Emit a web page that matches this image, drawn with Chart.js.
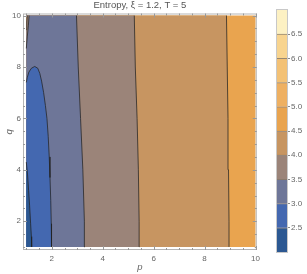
<!DOCTYPE html>
<html>
<head>
<meta charset="utf-8">
<script src="https://cdn.jsdelivr.net/npm/chart.js@4.4.1/dist/chart.umd.min.js"></script>
<style>
  body { margin: 0; background: #fff; }
  #wrap { position: relative; width: 307px; height: 274px; }
  #main { position: absolute; left: 0; top: 0; }
  #bar { position: absolute; left: 265px; top: 0; }
</style>
</head>
<body>
<div id="wrap">
  <canvas id="main" width="264" height="274"></canvas>
  <canvas id="bar" width="42" height="274"></canvas>
</div>
<script>
// Konturlinien [p, q]
const contour25 = [[1.0, 4.3], [1.05, 3.8], [1.09, 3.2], [1.13, 2.6], [1.17, 1.9], [1.2, 1.4], [1.21, 1.0]];
const contour30 = [[1.0, 7.4], [1.04, 7.6], [1.1, 7.8], [1.2, 7.95], [1.33, 8.02], [1.45, 7.95], [1.53, 7.75],
  [1.6, 7.45], [1.68, 7.0], [1.75, 6.5], [1.81, 6.0], [1.86, 5.3], [1.9, 4.5], [1.93, 3.7], [1.96, 2.8],
  [1.98, 1.9], [1.99, 1.0]];
const contour35 = [[3.3, 1.0], [3.28, 2.0], [3.22, 4.0], [3.13, 6.0], [3.04, 8.0], [2.97, 10.0]];
const contour40 = [[5.44, 1.0], [5.43, 2.0], [5.4, 4.0], [5.35, 6.0], [5.28, 8.0], [5.24, 10.0]];
const contour45 = [[8.96, 1.0], [8.96, 2.0], [8.94, 4.0], [8.92, 6.0], [8.89, 8.0], [8.86, 10.0]];
// kleine Zonen oben links
const contourTopA = [[1.0, 8.72], [1.04, 9.2], [1.08, 9.6], [1.11, 10.0]];
const contourTopB = [[1.0, 9.45], [1.02, 9.75], [1.04, 10.0]];

// Farbstufen 2.0 ... 7.0
const levels = [2.0, 2.5, 3.0, 3.5, 4.0, 4.5, 5.0, 5.5, 6.0, 6.5, 7.0];
const bandColors = ['#2c5892', '#4468b0', '#6e7698', '#9b8479', '#c79561', '#e9a44f',
  '#eeb062', '#f3c175', '#f8d48f', '#fdf1c3'];
const tickLabels = ['2.5', '3.0', '3.5', '4.0', '4.5', '5.0', '5.5', '6.0', '6.5'];

const pMin = 1, pMax = 10, qMin = 1, qMax = 10;

const pts = arr => arr.map(([x, y]) => ({x: x, y: y}));

// Flächen von unten nach oben gemalt
const regions = [
  {data: [[pMin, qMin], [pMax, qMin], [pMax, qMax], [pMin, qMax]], color: bandColors[5]},
  {data: [[pMin, qMin], ...contour45, [pMin, qMax]], color: bandColors[4]},
  {data: [[pMin, qMin], ...contour40, [pMin, qMax]], color: bandColors[3]},
  {data: [[pMin, qMin], ...contour35, [pMin, qMax]], color: bandColors[2]},
  {data: [...contour30, [pMin, qMin]], color: bandColors[1]},
  {data: [...contour25, [pMin, qMin]], color: bandColors[0]},
  {data: [...contourTopA, [pMin, qMax]], color: bandColors[3]},
  {data: [...contourTopB, [pMin, qMax]], color: bandColors[4]}
];
const lines = [contour45, contour40, contour35, contour30, contour25, contourTopA, contourTopB];

const datasets = [];
regions.forEach(r => {
  datasets.push({
    data: pts(r.data),
    backgroundColor: r.color,
    borderWidth: 0,
    pointRadius: 0,
    fill: 'shape'
  });
});
lines.forEach(l => {
  datasets.push({
    data: pts(l),
    borderColor: 'rgba(35,35,35,0.75)',
    borderWidth: 1,
    pointRadius: 0,
    fill: false
  });
});
// Reihenfolge: erster Eintrag zuunterst
datasets.forEach((d, i) => { d.order = datasets.length - i; });

const font = 'Liberation Sans, Arial, sans-serif';

// Rahmen mit Ticks wie bei Mathematica
const framePlugin = {
  id: 'frame',
  afterDatasetsDraw(chart) {
    const {ctx, chartArea: a, scales} = chart;
    ctx.save();
    ctx.strokeStyle = '#b5b5b5';
    ctx.lineWidth = 1;
    ctx.strokeRect(a.left + 0.5, a.top + 0.5, a.right - a.left - 1, a.bottom - a.top - 1);
    ctx.strokeStyle = '#999';
    ctx.beginPath();
    for (let v = 1; v <= 10; v += 0.5) {
      const len = Number.isInteger(v / 2) ? 4 : 2;
      const x = Math.round(scales.x.getPixelForValue(v)) + 0.5;
      const y = Math.round(scales.y.getPixelForValue(v)) + 0.5;
      ctx.moveTo(x, a.bottom); ctx.lineTo(x, a.bottom - len);
      ctx.moveTo(x, a.top); ctx.lineTo(x, a.top + len);
      ctx.moveTo(a.left, y); ctx.lineTo(a.left + len, y);
      ctx.moveTo(a.right, y); ctx.lineTo(a.right - len, y);
    }
    ctx.stroke();
    ctx.restore();
  }
};

new Chart(document.getElementById('main'), {
  type: 'line',
  data: {datasets: datasets},
  options: {
    responsive: false,
    animation: false,
    layout: {padding: {left: 0, right: 0, top: 0, bottom: 0}},
    plugins: {
      legend: {display: false},
      tooltip: {enabled: false},
      title: {
        display: true,
        text: 'Entropy, ξ = 1.2, T = 5',
        fullSize: false,
        color: '#555',
        font: {family: font, size: 9.5, weight: 'normal', lineHeight: 1},
        padding: {top: 1, bottom: 3}
      }
    },
    scales: {
      x: {
        type: 'linear',
        min: 0.87,
        max: 10.05,
        afterBuildTicks: s => { s.ticks = [2, 4, 6, 8, 10].map(v => ({value: v})); },
        afterFit: s => { s.height = 24; },
        grid: {display: false, drawTicks: false},
        border: {display: false},
        ticks: {color: '#666', font: {family: font, size: 8}, padding: 4, maxRotation: 0},
        title: {display: true, text: 'p', color: '#666', padding: {top: 0, bottom: 1},
          font: {family: font, size: 9.5, style: 'italic'}}
      },
      y: {
        type: 'linear',
        min: 0.88,
        max: 10.08,
        afterBuildTicks: s => { s.ticks = [2, 4, 6, 8, 10].map(v => ({value: v})); },
        afterFit: s => { s.width = 23; },
        grid: {display: false, drawTicks: false},
        border: {display: false},
        ticks: {color: '#666', font: {family: font, size: 8}, padding: 2},
        title: {display: true, text: 'q', color: '#666', padding: {top: 4, bottom: 0},
          font: {family: font, size: 9.5, style: 'italic'}}
      }
    }
  },
  plugins: [framePlugin]
});

// Farbskala
const barSets = bandColors.map((c, i) => ({
  data: [[levels[i], levels[i + 1]]],
  backgroundColor: c,
  borderColor: 'rgba(70,50,30,0.55)',
  borderWidth: i < bandColors.length - 1 ? {top: 1, bottom: 0, left: 0, right: 0} : 0,
  borderSkipped: false,
  grouped: false,
  barPercentage: 1,
  categoryPercentage: 1
}));

const barFramePlugin = {
  id: 'barFrame',
  afterDatasetsDraw(chart) {
    const {ctx, chartArea: a} = chart;
    ctx.save();
    ctx.strokeStyle = '#c8c8c8';
    ctx.strokeRect(a.left - 0.5, a.top - 0.5, a.right - a.left + 1, a.bottom - a.top + 1);
    ctx.restore();
  }
};

new Chart(document.getElementById('bar'), {
  type: 'bar',
  data: {labels: ['s'], datasets: barSets},
  options: {
    responsive: false,
    animation: false,
    layout: {padding: {left: 12, top: 10, bottom: 22, right: 0}},
    plugins: {legend: {display: false}, tooltip: {enabled: false}},
    scales: {
      x: {display: false},
      y: {
        position: 'right',
        min: 2,
        max: 7,
        afterBuildTicks: s => { s.ticks = tickLabels.map(t => ({value: parseFloat(t)})); },
        afterFit: s => { s.width = 20; },
        grid: {drawOnChartArea: false, tickLength: 3, color: '#888'},
        border: {display: false},
        ticks: {color: '#666', font: {family: font, size: 8}, padding: 1,
          callback: v => v.toFixed(1)}
      }
    }
  },
  plugins: [barFramePlugin]
});
</script>
</body>
</html>
